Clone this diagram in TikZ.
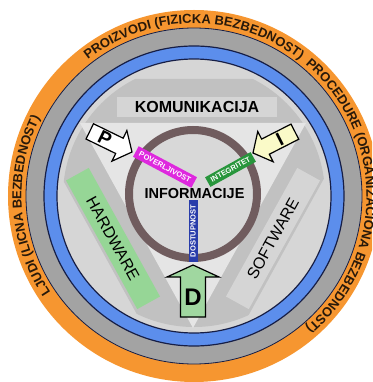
\documentclass[tikz,border=0pt]{standalone}
\usepackage{fontspec}
\setmainfont{Liberation Sans}
\setsansfont{Liberation Sans}
\usetikzlibrary{decorations.text}

\definecolor{ringorange}{RGB}{246,150,48}
\definecolor{ringgray}{RGB}{163,163,163}
\definecolor{ringblue}{RGB}{92,142,236}
\definecolor{edgenavy}{RGB}{22,30,70}
\definecolor{lightdisk}{RGB}{214,214,214}
\definecolor{bandgray}{RGB}{193,193,193}
\definecolor{trifill}{RGB}{229,229,229}
\definecolor{infobrown}{RGB}{112,92,94}
\definecolor{infofill}{RGB}{216,216,216}
\definecolor{hwgreen}{RGB}{150,214,150}
\definecolor{swgray}{RGB}{213,213,213}
\definecolor{darkink}{RGB}{40,25,10}
\definecolor{tagpink}{RGB}{222,40,222}
\definecolor{taggreen}{RGB}{40,150,60}
\definecolor{tagblue}{RGB}{40,60,170}
\definecolor{pyellow}{RGB}{250,250,200}
\definecolor{dgreen}{RGB}{160,215,160}

\newcommand{\ringfont}{\fontsize{13}{13}\selectfont\sffamily\bfseries}

\tikzset{
  ringtext/.style={decorate, decoration={text along path, text align=center,
      text color=darkink, text={|\ringfont|#1}}},
  sidebar/.style={inner sep=0pt, minimum height=#1},
  sidetext/.style={font=\fontsize{16}{16}\selectfont\sffamily},
  tag/.style={text=white, inner sep=1pt, minimum height=11,
      font=\fontsize{7.5}{7.5}\selectfont\sffamily\bfseries},
  arrowline/.style={draw=black, line width=1.2},
  arrowletter/.style={inner sep=0pt, font=\fontsize{19}{19}\selectfont\sffamily\bfseries},
}

\begin{document}
\begin{tikzpicture}[x=1pt,y=1pt]
  \useasboundingbox (-194,-186) rectangle (178,196);
  \clip (-194,-186) rectangle (178,196);
  % outer rings
  \fill[ringorange] (0,0) circle (186);
  \fill[ringgray] (0,0) circle (168);
  \draw[edgenavy, line width=0.8] (0,0) circle (168);
  \fill[ringblue] (0,0) circle (150);
  \fill[lightdisk] (0,0) circle (137);
  \draw[edgenavy, line width=1.2] (0,0) circle (150) (0,0) circle (137);
  % texts on the orange ring
  \path[ringtext={PROIZVODI (FIZICKA BEZBEDNOST)}] (140:172.5) arc (140:40:172.5);
  \path[ringtext={PROCEDURE (ORGANIZACIONA BEZBEDNOST)}] (64:172.5) arc (64:-64:172.5);
  \path[ringtext={LJUDI (LICNA BEZBEDNOST)}] (224:172.5) arc (224:143:172.5);
  % triangle with its three sides
  \begin{scope}
    \clip (0,0) circle (131);
    \fill[bandgray] (-186.8,117) -- (184.8,117) -- (-1,-220) -- cycle;
  \end{scope}
  \fill[trifill] (-114,73) -- (112,73) -- (-1,-132) -- cycle;
  \node[sidebar=20, fill=swgray, minimum width=160,
        font=\fontsize{16}{16}\selectfont\sffamily\bfseries] (kom) at (3,89) {KOMUNIKACIJA};
  \node[sidebar=26, fill=hwgreen, minimum width=147, rotate=-61, sidetext] (hw) at (-81,-42.5) {HARDWARE};
  \node[sidebar=26, fill=swgray, minimum width=147, rotate=61, sidetext] (sw) at (79,-42.5) {SOFTWARE};
  % information circle
  \draw[infobrown, line width=8, fill=infofill] (-1,2) circle (64);
  \node[font=\fontsize{14.5}{14.5}\selectfont\sffamily\bfseries] (info) at (0.5,2.5) {INFORMACIJE};
  \node[tag, fill=tagpink, rotate=-28, minimum width=66, minimum height=12] (conf) at (-29,29) {POVERLJIVOST};
  \node[tag, fill=taggreen, rotate=29, minimum width=52] (integ) at (36.5,26.5) {INTEGRITET};
  \node[tag, fill=tagblue, rotate=90, minimum width=62, minimum height=9] (avail) at (-1,-35) {DOSTUPNOST};
  % P arrow
  \begin{scope}[shift={(-62,44)}, rotate=-26]
    \draw[arrowline, fill=white] (0,0) -- (-14,17) -- (-14,8.5) -- (-47,8.5)
      -- (-47,-8.5) -- (-14,-8.5) -- (-14,-17) -- cycle;
    \node[arrowletter, rotate=-26] (pkey) at (-30,0) {P};
  \end{scope}
  % I arrow
  \begin{scope}[shift={(59,43)}, rotate=207]
    \draw[arrowline, fill=pyellow] (0,0) -- (-14,17) -- (-14,8.5) -- (-47,8.5)
      -- (-47,-8.5) -- (-14,-8.5) -- (-14,-17) -- cycle;
    \node[arrowletter, rotate=27] (ikey) at (-30,0) {I};
  \end{scope}
  % D arrow
  \begin{scope}[shift={(-1,-69)}, rotate=90]
    \draw[arrowline, fill=dgreen] (0,0) -- (-12,26) -- (-12,12.5) -- (-52,12.5)
      -- (-52,-12.5) -- (-12,-12.5) -- (-12,-26) -- cycle;
    \node[arrowletter, font=\fontsize{24}{24}\selectfont\sffamily\bfseries] (dkey) at (-32,0) {D};
  \end{scope}
\end{tikzpicture}
\end{document}
